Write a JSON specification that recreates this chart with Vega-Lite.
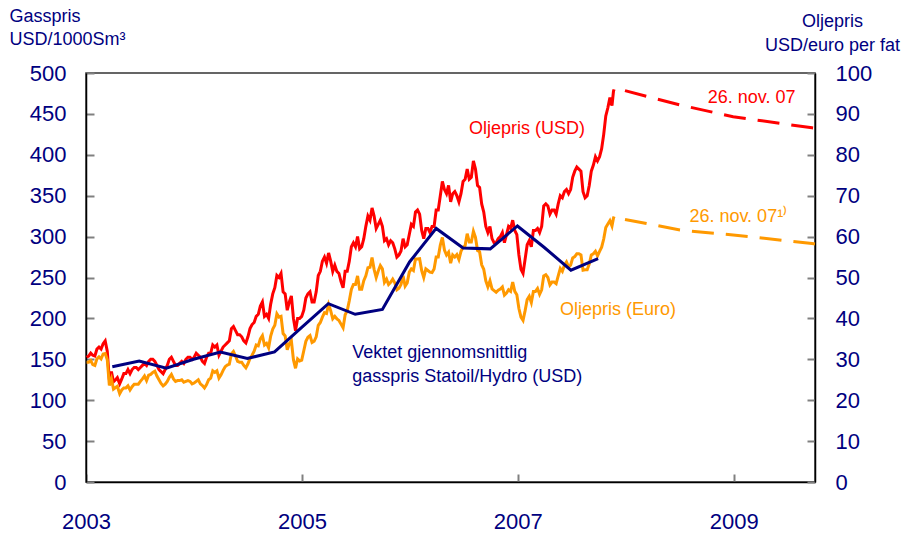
{
 "$schema": "https://vega.github.io/schema/vega-lite/v6.json",
 "width": 729, "height": 409,
 "autosize": {"type": "none"},
 "padding": {"left": 86, "top": 73, "right": 89, "bottom": 53},
 "background": "white",
 "config": {
  "font": "Liberation Sans",
  "view": {"stroke": "#333333", "strokeWidth": 1.5},
  "axis": {"grid": false, "domainColor": "#000000", "domainWidth": 1.5, "tickColor": "#808080", "tickWidth": 2, "tickSize": -8, "labelColor": "#000080", "labelFont": "Liberation Sans", "labelFontSize": 22, "titleFont": "Liberation Sans", "titleColor": "#000080", "titleFontSize": 18, "titleFontWeight": "normal"}
 },
 "datasets": {
  "oil": [
   {"d":"2003-01-03","u":30.5,"e":29.3},{"d":"2003-01-10","u":30.8,"e":29.3},{"d":"2003-01-17","u":31.5,"e":29.7},{"d":"2003-01-24","u":31.0,"e":28.7},{"d":"2003-01-31","u":30.8,"e":28.5},
   {"d":"2003-02-07","u":32.5,"e":30.1},{"d":"2003-02-14","u":33.0,"e":30.6},{"d":"2003-02-21","u":32.5,"e":30.1},{"d":"2003-02-28","u":33.8,"e":31.3},
   {"d":"2003-03-07","u":34.5,"e":31.4},{"d":"2003-03-14","u":32.0,"e":29.9},{"d":"2003-03-21","u":25.0,"e":23.6},{"d":"2003-03-28","u":27.0,"e":25.2},
   {"d":"2003-04-04","u":24.5,"e":22.7},{"d":"2003-04-11","u":25.0,"e":23.1},{"d":"2003-04-17","u":25.5,"e":23.4},{"d":"2003-04-25","u":24.0,"e":21.6},
   {"d":"2003-05-02","u":25.2,"e":22.5},{"d":"2003-05-09","u":26.5,"e":23.0},{"d":"2003-05-16","u":26.5,"e":23.0},{"d":"2003-05-23","u":27.5,"e":23.5},{"d":"2003-05-30","u":26.5,"e":22.5},
   {"d":"2003-06-06","u":27.5,"e":23.3},{"d":"2003-06-13","u":28.0,"e":23.9},{"d":"2003-06-20","u":28.0,"e":23.9},{"d":"2003-06-27","u":27.5,"e":23.9},
   {"d":"2003-07-04","u":28.0,"e":24.6},{"d":"2003-07-11","u":28.5,"e":25.2},{"d":"2003-07-18","u":29.0,"e":25.9},{"d":"2003-07-25","u":28.5,"e":24.8},
   {"d":"2003-08-01","u":29.5,"e":26.1},{"d":"2003-08-08","u":30.0,"e":26.3},{"d":"2003-08-15","u":30.0,"e":26.8},{"d":"2003-08-22","u":29.5,"e":27.1},{"d":"2003-08-29","u":28.5,"e":25.9},
   {"d":"2003-09-05","u":27.5,"e":25.0},{"d":"2003-09-12","u":27.0,"e":24.1},{"d":"2003-09-19","u":26.5,"e":23.5},{"d":"2003-09-26","u":27.5,"e":23.9},
   {"d":"2003-10-03","u":28.5,"e":24.6},{"d":"2003-10-10","u":30.0,"e":25.6},{"d":"2003-10-17","u":30.5,"e":26.3},{"d":"2003-10-24","u":29.5,"e":25.2},{"d":"2003-10-31","u":28.5,"e":24.6},
   {"d":"2003-11-07","u":28.5,"e":24.8},{"d":"2003-11-14","u":29.0,"e":24.8},{"d":"2003-11-21","u":29.5,"e":25.0},{"d":"2003-11-28","u":29.0,"e":24.4},
   {"d":"2003-12-05","u":30.0,"e":24.6},{"d":"2003-12-12","u":30.5,"e":24.8},{"d":"2003-12-19","u":30.5,"e":24.6},{"d":"2003-12-26","u":30.0,"e":24.0},
   {"d":"2004-01-02","u":30.5,"e":24.2},{"d":"2004-01-09","u":31.5,"e":24.6},{"d":"2004-01-16","u":31.0,"e":25.0},{"d":"2004-01-23","u":30.5,"e":24.0},{"d":"2004-01-30","u":29.5,"e":23.6},
   {"d":"2004-02-06","u":29.0,"e":23.0},{"d":"2004-02-13","u":30.5,"e":23.8},{"d":"2004-02-20","u":31.5,"e":25.0},{"d":"2004-02-27","u":31.5,"e":25.4},
   {"d":"2004-03-05","u":33.5,"e":27.2},{"d":"2004-03-12","u":33.0,"e":26.8},{"d":"2004-03-19","u":33.5,"e":27.2},{"d":"2004-03-26","u":31.0,"e":25.4},
   {"d":"2004-04-02","u":32.0,"e":26.2},{"d":"2004-04-09","u":33.0,"e":27.3},{"d":"2004-04-16","u":33.5,"e":28.2},{"d":"2004-04-23","u":34.0,"e":28.6},{"d":"2004-04-30","u":34.5,"e":28.8},
   {"d":"2004-05-07","u":37.5,"e":31.3},{"d":"2004-05-14","u":38.0,"e":31.9},{"d":"2004-05-21","u":37.0,"e":30.8},{"d":"2004-05-28","u":36.0,"e":29.5},
   {"d":"2004-06-04","u":36.0,"e":29.3},{"d":"2004-06-11","u":35.5,"e":29.3},{"d":"2004-06-18","u":34.5,"e":28.5},{"d":"2004-06-25","u":34.0,"e":27.9},
   {"d":"2004-07-02","u":35.5,"e":28.9},{"d":"2004-07-09","u":37.5,"e":30.2},{"d":"2004-07-16","u":38.5,"e":31.0},{"d":"2004-07-23","u":39.0,"e":32.0},{"d":"2004-07-30","u":40.5,"e":33.5},
   {"d":"2004-08-06","u":41.0,"e":33.3},{"d":"2004-08-13","u":43.0,"e":35.0},{"d":"2004-08-20","u":44.0,"e":35.8},{"d":"2004-08-27","u":40.5,"e":33.5},
   {"d":"2004-09-03","u":41.0,"e":33.9},{"d":"2004-09-10","u":40.0,"e":32.8},{"d":"2004-09-17","u":43.5,"e":35.7},{"d":"2004-09-24","u":46.0,"e":37.4},
   {"d":"2004-10-01","u":47.5,"e":38.3},{"d":"2004-10-08","u":50.5,"e":41.1},{"d":"2004-10-15","u":50.0,"e":40.3},{"d":"2004-10-22","u":51.0,"e":40.5},{"d":"2004-10-29","u":46.5,"e":36.3},
   {"d":"2004-11-05","u":46.0,"e":35.7},{"d":"2004-11-12","u":42.0,"e":32.3},{"d":"2004-11-19","u":44.0,"e":33.8},{"d":"2004-11-26","u":45.5,"e":34.5},
   {"d":"2004-12-03","u":40.0,"e":29.9},{"d":"2004-12-10","u":37.0,"e":27.8},{"d":"2004-12-17","u":40.0,"e":30.1},{"d":"2004-12-24","u":40.0,"e":29.6},{"d":"2004-12-31","u":40.5,"e":29.8},
   {"d":"2005-01-07","u":42.0,"e":32.1},{"d":"2005-01-14","u":45.0,"e":34.4},{"d":"2005-01-21","u":46.0,"e":35.4},{"d":"2005-01-28","u":46.5,"e":35.8},
   {"d":"2005-02-04","u":44.0,"e":34.1},{"d":"2005-02-11","u":44.0,"e":34.4},{"d":"2005-02-18","u":46.5,"e":35.5},{"d":"2005-02-25","u":50.5,"e":38.3},
   {"d":"2005-03-04","u":51.5,"e":39.0},{"d":"2005-03-11","u":54.0,"e":40.3},{"d":"2005-03-18","u":55.0,"e":41.4},{"d":"2005-03-25","u":53.5,"e":41.2},
   {"d":"2005-04-01","u":56.0,"e":43.4},{"d":"2005-04-08","u":54.0,"e":41.9},{"d":"2005-04-15","u":51.5,"e":39.9},{"d":"2005-04-22","u":53.0,"e":40.5},{"d":"2005-04-29","u":51.5,"e":39.9},
   {"d":"2005-05-06","u":51.0,"e":39.5},{"d":"2005-05-13","u":49.0,"e":38.6},{"d":"2005-05-20","u":47.5,"e":37.7},{"d":"2005-05-27","u":51.5,"e":40.9},
   {"d":"2005-06-03","u":51.5,"e":41.9},{"d":"2005-06-10","u":54.0,"e":44.3},{"d":"2005-06-17","u":57.5,"e":47.1},{"d":"2005-06-24","u":58.5,"e":48.3},
   {"d":"2005-07-01","u":57.5,"e":48.3},{"d":"2005-07-08","u":60.0,"e":50.4},{"d":"2005-07-15","u":57.0,"e":47.1},{"d":"2005-07-22","u":57.5,"e":47.1},{"d":"2005-07-29","u":59.5,"e":49.2},
   {"d":"2005-08-05","u":62.5,"e":50.4},{"d":"2005-08-12","u":65.0,"e":52.4},{"d":"2005-08-19","u":64.0,"e":52.5},{"d":"2005-08-26","u":67.0,"e":54.9},
   {"d":"2005-09-02","u":65.0,"e":52.0},{"d":"2005-09-09","u":62.0,"e":50.0},{"d":"2005-09-16","u":63.0,"e":51.6},{"d":"2005-09-23","u":64.0,"e":52.9},{"d":"2005-09-30","u":62.5,"e":52.1},
   {"d":"2005-10-07","u":59.0,"e":48.8},{"d":"2005-10-14","u":59.5,"e":49.6},{"d":"2005-10-21","u":58.0,"e":48.3},{"d":"2005-10-28","u":59.0,"e":48.8},
   {"d":"2005-11-04","u":58.5,"e":49.6},{"d":"2005-11-11","u":57.0,"e":48.7},{"d":"2005-11-18","u":55.0,"e":47.0},{"d":"2005-11-25","u":55.5,"e":47.4},
   {"d":"2005-12-02","u":56.5,"e":48.3},{"d":"2005-12-09","u":59.5,"e":50.4},{"d":"2005-12-16","u":57.5,"e":47.9},{"d":"2005-12-23","u":58.0,"e":48.7},{"d":"2005-12-30","u":60.5,"e":51.3},
   {"d":"2006-01-06","u":63.0,"e":52.1},{"d":"2006-01-13","u":62.5,"e":51.7},{"d":"2006-01-20","u":66.0,"e":54.5},{"d":"2006-01-27","u":66.5,"e":54.5},
   {"d":"2006-02-03","u":65.5,"e":54.6},{"d":"2006-02-10","u":61.5,"e":51.7},{"d":"2006-02-17","u":59.5,"e":50.0},{"d":"2006-02-24","u":62.0,"e":52.1},
   {"d":"2006-03-03","u":62.0,"e":51.7},{"d":"2006-03-10","u":61.0,"e":51.3},{"d":"2006-03-17","u":62.5,"e":51.2},{"d":"2006-03-24","u":62.5,"e":52.1},{"d":"2006-03-31","u":66.5,"e":55.0},
   {"d":"2006-04-07","u":66.5,"e":55.0},{"d":"2006-04-14","u":70.0,"e":57.9},{"d":"2006-04-21","u":73.5,"e":59.8},{"d":"2006-04-28","u":71.5,"e":56.7},
   {"d":"2006-05-05","u":70.5,"e":55.5},{"d":"2006-05-12","u":72.5,"e":56.2},{"d":"2006-05-19","u":68.5,"e":53.5},{"d":"2006-05-26","u":70.5,"e":55.5},
   {"d":"2006-06-02","u":71.0,"e":55.0},{"d":"2006-06-09","u":70.0,"e":55.6},{"d":"2006-06-16","u":68.5,"e":54.4},{"d":"2006-06-23","u":70.5,"e":56.4},{"d":"2006-06-30","u":73.5,"e":57.4},
   {"d":"2006-07-07","u":74.0,"e":57.8},{"d":"2006-07-14","u":76.5,"e":60.7},{"d":"2006-07-21","u":74.0,"e":58.7},{"d":"2006-07-28","u":74.5,"e":58.7},
   {"d":"2006-08-04","u":78.5,"e":61.3},{"d":"2006-08-11","u":76.5,"e":59.8},{"d":"2006-08-18","u":72.5,"e":56.6},{"d":"2006-08-25","u":72.0,"e":56.3},
   {"d":"2006-09-01","u":68.0,"e":53.1},{"d":"2006-09-08","u":66.0,"e":52.0},{"d":"2006-09-15","u":62.5,"e":49.2},{"d":"2006-09-22","u":61.0,"e":47.7},{"d":"2006-09-29","u":62.5,"e":49.2},
   {"d":"2006-10-06","u":59.5,"e":47.2},{"d":"2006-10-13","u":58.5,"e":46.8},{"d":"2006-10-20","u":58.5,"e":46.4},{"d":"2006-10-27","u":59.5,"e":46.9},
   {"d":"2006-11-03","u":60.0,"e":47.2},{"d":"2006-11-10","u":61.0,"e":47.7},{"d":"2006-11-17","u":58.5,"e":45.7},{"d":"2006-11-24","u":60.5,"e":46.2},
   {"d":"2006-12-01","u":62.5,"e":47.0},{"d":"2006-12-08","u":62.0,"e":46.6},{"d":"2006-12-15","u":64.0,"e":48.9},{"d":"2006-12-22","u":61.5,"e":46.6},{"d":"2006-12-29","u":60.5,"e":45.8},
   {"d":"2007-01-05","u":55.5,"e":42.4},{"d":"2007-01-12","u":52.0,"e":40.3},{"d":"2007-01-19","u":51.0,"e":39.5},{"d":"2007-01-26","u":54.5,"e":41.9},
   {"d":"2007-02-02","u":58.0,"e":44.6},{"d":"2007-02-09","u":59.0,"e":45.4},{"d":"2007-02-16","u":57.5,"e":43.9},{"d":"2007-02-23","u":61.5,"e":46.6},
   {"d":"2007-03-02","u":61.5,"e":46.6},{"d":"2007-03-09","u":62.0,"e":47.3},{"d":"2007-03-16","u":61.0,"e":45.9},{"d":"2007-03-23","u":62.5,"e":47.0},{"d":"2007-03-30","u":67.5,"e":50.4},
   {"d":"2007-04-06","u":68.0,"e":50.7},{"d":"2007-04-13","u":67.5,"e":50.0},{"d":"2007-04-20","u":65.5,"e":48.2},{"d":"2007-04-27","u":66.5,"e":48.9},
   {"d":"2007-05-04","u":66.5,"e":48.9},{"d":"2007-05-11","u":65.5,"e":48.5},{"d":"2007-05-18","u":68.0,"e":50.4},{"d":"2007-05-25","u":70.0,"e":52.2},
   {"d":"2007-06-01","u":69.5,"e":51.5},{"d":"2007-06-08","u":71.0,"e":53.0},{"d":"2007-06-15","u":71.5,"e":53.8},{"d":"2007-06-22","u":70.5,"e":52.6},{"d":"2007-06-29","u":71.5,"e":53.0},
   {"d":"2007-07-06","u":74.5,"e":54.8},{"d":"2007-07-13","u":76.0,"e":55.1},{"d":"2007-07-20","u":77.0,"e":55.8},{"d":"2007-07-27","u":76.5,"e":55.8},
   {"d":"2007-08-03","u":76.0,"e":55.5},{"d":"2007-08-10","u":71.0,"e":51.8},{"d":"2007-08-17","u":69.5,"e":51.9},{"d":"2007-08-24","u":70.0,"e":51.9},{"d":"2007-08-31","u":72.5,"e":53.3},
   {"d":"2007-09-07","u":76.0,"e":55.5},{"d":"2007-09-14","u":77.5,"e":55.8},{"d":"2007-09-21","u":79.5,"e":56.4},{"d":"2007-09-28","u":78.5,"e":55.3},
   {"d":"2007-10-05","u":79.5,"e":56.4},{"d":"2007-10-12","u":81.5,"e":57.4},{"d":"2007-10-19","u":85.0,"e":59.4},{"d":"2007-10-26","u":89.5,"e":62.2},
   {"d":"2007-11-02","u":91.5,"e":63.1},{"d":"2007-11-09","u":94.0,"e":63.9},{"d":"2007-11-16","u":92.0,"e":62.6},{"d":"2007-11-21","u":95.5,"e":64.5},{"d":"2007-11-23","u":96.0,"e":64.9}
  ],
  "fwd": [
   {"d":"2007-12-30","s":"u","oil":95.7},{"d":"2008-03-12","s":"u","oil":94.3},{"d":"2008-07-03","s":"u","oil":92.2},{"d":"2008-12-30","s":"u","oil":89.3},{"d":"2009-09-23","s":"u","oil":86.6},{"d":"2009-10-03","s":"u","oil":86.5},
   {"d":"2007-12-30","s":"e","oil":64.2},{"d":"2008-03-12","s":"e","oil":63.2},{"d":"2008-07-03","s":"e","oil":61.6},{"d":"2008-12-30","s":"e","oil":60.4},{"d":"2009-09-23","s":"e","oil":58.3},{"d":"2009-10-03","s":"e","oil":58.2}
  ],
  "gas": [
   {"d":"2003-03-31","gas":141},{"d":"2003-06-30","gas":148},{"d":"2003-09-30","gas":139},{"d":"2003-12-31","gas":150},
   {"d":"2004-03-31","gas":159},{"d":"2004-06-30","gas":151},{"d":"2004-09-30","gas":159},{"d":"2004-12-31","gas":189},
   {"d":"2005-03-31","gas":218},{"d":"2005-06-30","gas":205},{"d":"2005-09-30","gas":211},{"d":"2005-12-31","gas":269},
   {"d":"2006-03-31","gas":310},{"d":"2006-06-30","gas":286},{"d":"2006-09-30","gas":285},{"d":"2006-12-31","gas":313},
   {"d":"2007-03-31","gas":287},{"d":"2007-06-30","gas":259},{"d":"2007-09-30","gas":273}
  ],
  "notes": [
   {"d":"2006-07-20","gas":432,"t":"Oljepris (USD)","k":"usd"},
   {"d":"2007-05-24","gas":210,"t":"Oljepris (Euro)","k":"euro"},
   {"d":"2005-06-20","gas":158,"t":"Vektet gjennomsnittlig","k":"gas"},
   {"d":"2005-06-20","gas":128,"t":"gasspris Statoil/Hydro (USD)","k":"gas"},
   {"d":"2008-10-05","gas":469,"t":"26. nov. 07","k":"usd"},
   {"d":"2008-08-04","gas":324,"t":"26. nov. 07¹⁾","k":"euro"}
  ]
 },
 "layer": [
  {
   "layer": [
    {
     "data": {"name": "oil"},
     "transform": [{"fold": ["u", "e"], "as": ["s", "oil"]}],
     "mark": {"type": "line", "strokeWidth": 3},
     "encoding": {
      "x": {"field": "d", "type": "temporal", "scale": {"type": "utc", "domain": [{"year": 2003, "month": 1, "date": 1, "utc": true}, {"year": 2009, "month": 10, "date": 3, "utc": true}]}, "axis": {"values": [{"year": 2003, "utc": true}, {"year": 2005, "utc": true}, {"year": 2007, "utc": true}, {"year": 2009, "utc": true}], "format": "%Y", "labelFlush": false, "labelPadding": 47, "labelBaseline": "middle", "title": null}},
      "y": {"field": "oil", "type": "quantitative", "scale": {"domain": [0, 100]}, "axis": {"orient": "right", "values": [0, 10, 20, 30, 40, 50, 60, 70, 80, 90, 100], "labelPadding": 28, "title": ["Oljepris", "USD/euro per fat"], "titleAngle": 0, "titleAlign": "center", "titleBaseline": "alphabetic", "titleX": 17, "titleY": -47, "titleLineHeight": 24}},
      "color": {"field": "s", "type": "nominal", "scale": {"domain": ["u", "e"], "range": ["#FF0000", "#FF9900"]}, "legend": null}
     }
    },
    {
     "data": {"name": "fwd"},
     "mark": {"type": "line", "strokeWidth": 3, "strokeDash": [22, 12]},
     "encoding": {
      "x": {"field": "d", "type": "temporal", "scale": {"type": "utc", "domain": [{"year": 2003, "month": 1, "date": 1, "utc": true}, {"year": 2009, "month": 10, "date": 3, "utc": true}]}, "axis": {"values": [{"year": 2003, "utc": true}, {"year": 2005, "utc": true}, {"year": 2007, "utc": true}, {"year": 2009, "utc": true}], "format": "%Y", "labelFlush": false, "labelPadding": 47, "labelBaseline": "middle", "title": null}},
      "y": {"field": "oil", "type": "quantitative", "scale": {"domain": [0, 100]}, "axis": {"orient": "right", "values": [0, 10, 20, 30, 40, 50, 60, 70, 80, 90, 100], "labelPadding": 28, "title": ["Oljepris", "USD/euro per fat"], "titleAngle": 0, "titleAlign": "center", "titleBaseline": "alphabetic", "titleX": 17, "titleY": -47, "titleLineHeight": 24}},
      "color": {"field": "s", "type": "nominal", "scale": {"domain": ["u", "e"], "range": ["#FF0000", "#FF9900"]}, "legend": null}
     }
    }
   ]
  },
  {
   "layer": [
    {
     "data": {"name": "gas"},
     "mark": {"type": "line", "color": "#000080", "strokeWidth": 3},
     "encoding": {
      "x": {"field": "d", "type": "temporal", "scale": {"type": "utc", "domain": [{"year": 2003, "month": 1, "date": 1, "utc": true}, {"year": 2009, "month": 10, "date": 3, "utc": true}]}, "axis": {"values": [{"year": 2003, "utc": true}, {"year": 2005, "utc": true}, {"year": 2007, "utc": true}, {"year": 2009, "utc": true}], "format": "%Y", "labelFlush": false, "labelPadding": 47, "labelBaseline": "middle", "title": null}},
      "y": {"field": "gas", "type": "quantitative", "scale": {"domain": [0, 500]}, "axis": {"orient": "left", "values": [0, 50, 100, 150, 200, 250, 300, 350, 400, 450, 500], "labelPadding": 28, "title": ["Gasspris", "USD/1000Sm³"], "titleAngle": 0, "titleAlign": "left", "titleBaseline": "alphabetic", "titleX": -77, "titleY": -52, "titleLineHeight": 23}}
     }
    },
    {
     "data": {"name": "notes"},
     "mark": {"type": "text", "align": "left", "baseline": "middle", "fontSize": 18, "font": "Liberation Sans"},
     "encoding": {
      "x": {"field": "d", "type": "temporal", "scale": {"type": "utc", "domain": [{"year": 2003, "month": 1, "date": 1, "utc": true}, {"year": 2009, "month": 10, "date": 3, "utc": true}]}, "axis": {"values": [{"year": 2003, "utc": true}, {"year": 2005, "utc": true}, {"year": 2007, "utc": true}, {"year": 2009, "utc": true}], "format": "%Y", "labelFlush": false, "labelPadding": 47, "labelBaseline": "middle", "title": null}},
      "y": {"field": "gas", "type": "quantitative", "scale": {"domain": [0, 500]}, "axis": {"orient": "left", "values": [0, 50, 100, 150, 200, 250, 300, 350, 400, 450, 500], "labelPadding": 28, "title": ["Gasspris", "USD/1000Sm³"], "titleAngle": 0, "titleAlign": "left", "titleBaseline": "alphabetic", "titleX": -77, "titleY": -52, "titleLineHeight": 23}},
      "text": {"field": "t"},
      "color": {"field": "k", "type": "nominal", "scale": {"domain": ["usd", "euro", "gas"], "range": ["#FF0000", "#FF9900", "#000080"]}, "legend": null}
     }
    }
   ]
  }
 ],
 "resolve": {"scale": {"y": "independent", "color": "independent"}}
}
